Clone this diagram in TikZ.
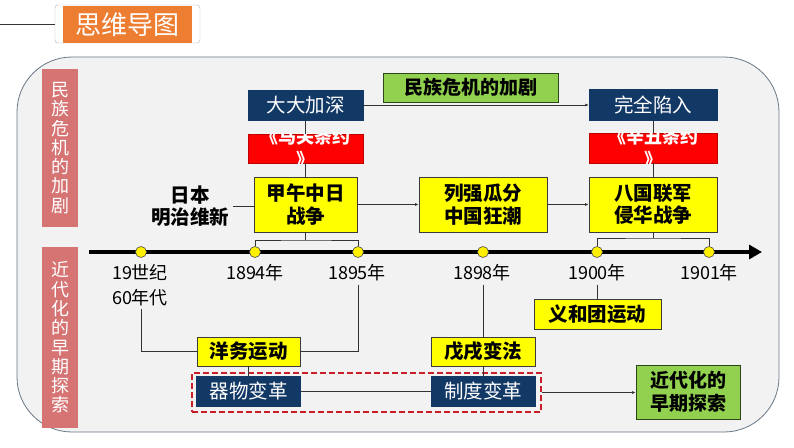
\documentclass[tikz,border=0pt]{standalone}
\usepackage{fontspec}
\setmainfont{Noto Sans CJK SC}
\usetikzlibrary{arrows.meta}
\definecolor{navy}{RGB}{18,56,102}
\definecolor{yel}{RGB}{255,255,0}
\definecolor{doty}{RGB}{255,240,0}
\definecolor{grn}{RGB}{146,208,80}
\definecolor{gborder}{RGB}{45,70,25}
\definecolor{boxborder}{RGB}{60,60,60}
\definecolor{linegray}{RGB}{50,50,50}
\definecolor{panelgray}{RGB}{242,242,242}
\definecolor{panelborder}{RGB}{105,120,135}
\definecolor{pinklab}{RGB}{214,116,116}
\definecolor{titleorange}{RGB}{237,125,49}
\definecolor{dashred}{RGB}{200,30,40}
\definecolor{redbox}{RGB}{255,0,0}
\begin{document}
\begin{tikzpicture}[x=1pt,y=-1pt,
  conn/.style={draw=linegray, line width=0.8pt},
  sarr/.style={conn, -{Latex[length=3.5pt,width=3pt]}},
  box/.style={rectangle, inner sep=0pt, align=center},
  ybox/.style={box, fill=yel, draw=boxborder, line width=0.8pt, font=\bfseries\fontsize{19.5}{22.5}\selectfont},
  nbox/.style={box, fill=navy, draw=navy, text=white, font=\fontsize{19.5}{22.5}\selectfont},
  gbox/.style={box, fill=grn, draw=gborder, line width=0.8pt, font=\bfseries\fontsize{19}{23}\selectfont},
  rbox/.style={box, fill=redbox, draw=redbox!75!black, line width=0.5pt},
  rtext/.style={inner sep=0pt, align=center, text=white, font=\bfseries\fontsize{18}{23}\selectfont},
  yr/.style={inner sep=3pt, align=center, font=\fontsize{18}{25}\selectfont},
  dot/.style={circle, fill=doty, draw=black!70, line width=0.6pt, minimum size=11pt, inner sep=0pt},
  vlabel/.style={fill=pinklab, text=white, inner sep=0pt, align=center, font=\fontsize{18}{19.3}\selectfont},
  dashbox/.style={draw=dashred, dashed, dash pattern=on 6pt off 3pt, line width=1.3pt, inner sep=0pt}
]
\useasboundingbox (0,0) rectangle (794,447);
\fill[white] (0,0) rectangle (794,447);

% panel
\draw[fill=panelgray, draw=panelborder, line width=0.8pt, rounded corners=55pt] (17,57) rectangle (779,432);

% title
\node[box, draw=gray!60, fill=white, rounded corners=3pt, minimum width=145pt, minimum height=38pt] (tbox) at (127.5,24) {};
\node[box, fill=titleorange, minimum width=129pt, minimum height=37pt, text=white, font=\fontsize{26}{30}\selectfont] (title) at (127.5,24.5) {思维导图};
\coordinate (tl) at (0,24);
\draw[draw=black!80, line width=1pt] (tl) -- (tbox.west);

% side labels
\node[vlabel, minimum width=36pt, minimum height=158pt] (sideA) at (60,148) {民\\族\\危\\机\\的\\加\\剧};
\node[vlabel, minimum width=36pt, minimum height=181pt] (sideB) at (60,337.5) {近\\代\\化\\的\\早\\期\\探\\索};

% top boxes
\node[gbox, minimum width=175pt, minimum height=29pt] (gtop) at (470.5,87.5) {民族危机的加剧};
\node[nbox, minimum width=115pt, minimum height=30pt] (dby) at (305.5,105) {大大加深};
\node[nbox, minimum width=128pt, minimum height=31pt] (wq) at (653,104.5) {完全陷入};
\node[rbox, minimum width=115pt, minimum height=29pt] (mg) at (305.5,148.5) {};
\node[rbox, minimum width=128pt, minimum height=30pt] (xc) at (653,148) {};
\begin{scope}
  \clip (mg.south west) rectangle (mg.north east);
  \node[rtext] (mgt) at (mg.center) {《马关条约\\》};
\end{scope}
\begin{scope}
  \clip (xc.south west) rectangle (xc.north east);
  \node[rtext] (xct) at (xc.center) {《辛丑条约\\》};
\end{scope}
\node[ybox, minimum width=103pt, minimum height=55pt] (jw) at (305.5,204.5) {甲午中日\\战争};
\node[ybox, minimum width=128pt, minimum height=55pt] (lq) at (483,204.5) {列强瓜分\\中国狂潮};
\node[ybox, minimum width=128pt, minimum height=55pt] (bg) at (653,204.5) {八国联军\\侵华战争};
\node[box, font=\bfseries\fontsize{19.5}{22}\selectfont] (rb) at (190,206) {日本\\明治维新};

\draw[sarr] (dby.east) -- (dby.east -| wq.west);
\draw[conn] (dby.south) -- (mg.north);
\draw[conn] (mg.south) -- (jw.north);
\draw[conn] (wq.south) -- (xc.north);
\draw[conn] (xc.south) -- (bg.north);
\draw[sarr] (jw.east) -- (lq.west);
\draw[sarr] (lq.east) -- (bg.west);
\draw[conn] (rb.east) ++(4,0) coordinate (rbe) -- (rbe -| jw.west);

% timeline
\coordinate (t0) at (89,252);
\coordinate (t1) at (762,252);
\draw[line width=3.5pt, -{Triangle[length=13pt,width=14pt]}] (t0) -- (t1);
\node[dot] (d1) at (141,252) {};
\node[dot] (d2) at (255,252) {};
\node[dot] (d3) at (358,252) {};
\node[dot] (d4) at (483,252) {};
\node[dot] (d5) at (597,252) {};
\node[dot] (d6) at (709,252) {};

\coordinate (b1) at (305.5,240);
\draw[conn] (jw.south) -- (b1);
\draw[conn] (d2.north) |- (b1) -| (d3.north);
\coordinate (b2) at (653,238);
\draw[conn] (bg.south) -- (b2);
\draw[conn] (d5.north) |- (b2) -| (d6.north);

% year labels
\node[yr] (l19) at (140,285.5) {19世纪\\60年代};
\node[yr] (l1894) at (255,273) {1894年};
\node[yr] (l1895) at (357,273) {1895年};
\node[yr] (l1898) at (482,273) {1898年};
\node[yr] (l1900) at (597,273) {1900年};
\node[yr] (l1901) at (709,273) {1901年};

% bottom
\node[dashbox, minimum width=349pt, minimum height=39pt] (dr) at (366.5,392.5) {};
\node[ybox, minimum width=103pt, minimum height=29pt] (yw) at (248.5,351.5) {洋务运动};
\node[nbox, minimum width=104pt, minimum height=30pt] (qw) at (248.5,391) {器物变革};
\node[ybox, minimum width=104pt, minimum height=29pt] (wx) at (483,351.5) {戊戌变法};
\node[nbox, minimum width=104pt, minimum height=30pt] (zd) at (483,391) {制度变革};
\node[ybox, minimum width=127pt, minimum height=30pt] (yh) at (597.5,314) {义和团运动};
\node[gbox, minimum width=104pt, minimum height=54pt] (jd) at (688,392) {近代化的\\早期探索};

\draw[conn] (l19.south -| d1) |- (yw.west);
\draw[conn] (l1895.south -| d3) |- (yw.east);
\draw[conn] (yw.south) -- (qw.north);
\draw[conn] (qw.east) -- (zd.west);
\draw[conn] (l1898.south -| d4) -- (wx.north -| d4);
\draw[conn] (wx.south) -- (zd.north);
\draw[conn] (l1900.south -| d5) -- (yh.north -| d5);
\draw[sarr] (dr.east) -- (dr.east -| jd.west);
\end{tikzpicture}
\end{document}
